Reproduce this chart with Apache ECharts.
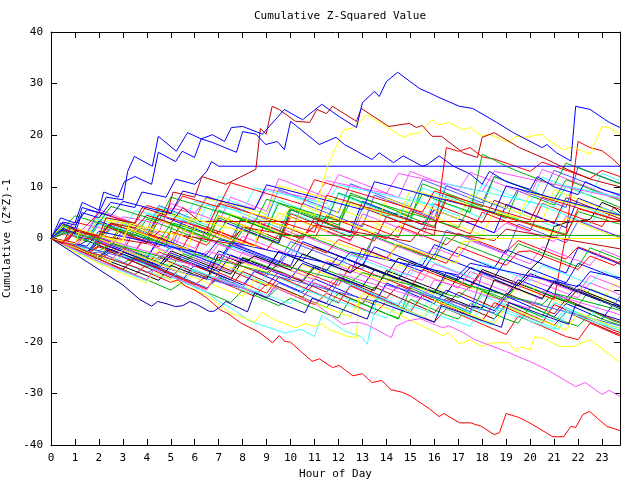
<!DOCTYPE html>
<html><head><meta charset="utf-8">
<script src="https://cdn.jsdelivr.net/npm/echarts@6/dist/echarts.min.js"></script>
<style>html,body{margin:0;padding:0;background:#fff}#c{width:640px;height:480px}</style>
</head><body><div id="c"></div>
<script>
// ---- text ----
const chartTitle = 'Cumulative Z-Squared Value';
const xAxisTitle = 'Hour of Day';
const yAxisTitle = 'Cumulative (Z*Z)-1';
const xTickLabels = [0,1,2,3,4,5,6,7,8,9,10,11,12,13,14,15,16,17,18,19,20,21,22,23];
const yTickLabels = [-40,-30,-20,-10,0,10,20,30,40];

// ---- colours ----
const R='#ff0000', DR='#c00000', G='#00b000', B='#0000ff', SB='#5050ff', M='#ff50ff', C='#40ffff', Y='#ffff00', K='#000000', DB='#0000b0';

// ---- half-hour sample times for the background walks ----
const hours=[0,0.5,1,1.5,2,2.5,3,3.5, 4,4.5,5,5.5,6,6.5,7,7.5, 8,8.5,9,9.5,10,10.5,11,11.5,
  12,12.5,13,13.5,14,14.5,15,15.5, 16,16.5,17,17.5,18,18.5,19,19.5, 20,20.5,21,21.5,22,22.5,23,23.5, 23.75];

// ---- background walks (values at `hours`) ----
const m01=[0,-0.9,2.1,1.2,0.3,-0.6,3.4,2.5, 1.6,5.8,4.9,4.0,3.1,2.2,1.3,4.5, 3.6,2.7,1.8,0.9,6.2,5.3,4.4,3.5, 2.6,7.1,6.2,5.3,4.4,5.0,4.1,3.2, 2.3,8.4,7.5,6.6,5.7,4.8,3.9,9.2, 8.3,7.4,6.5,10.1,9.2,8.3,7.4,6.5, 6.0];
const m02=[0,-1.0,-1.9,0.8,-0.1,-1.0,-1.8,2.6, 1.7,0.8,-0.1,-1.0,-1.9,1.1,0.2,-0.7, -1.6,3.9,3.0,2.1,1.2,0.3,2.2,1.3, 0.4,-0.5,4.8,3.9,3.0,2.1,1.2,0.3, 5.6,4.7,3.8,2.9,2.0,1.1,3.0,2.1, 1.2,0.3,-0.6,4.4,3.5,2.6,1.7,0.8, 0.4];
const m03=[0,1.6,0.7,-0.2,3.3,2.4,1.5,0.6, 4.8,3.9,3.0,2.1,1.2,6.5,5.6,4.7, 3.8,2.9,2.0,7.4,6.5,5.6,4.7,3.8, 8.9,8.0,7.1,6.2,5.3,4.4,3.5,9.8, 8.9,8.0,7.1,6.2,10.5,9.6,8.7,7.8, 6.9,11.9,11.0,10.1,9.2,8.3,12.6,11.7, 11.2];
const m04=[0,-0.9,-1.8,-2.7,0.1,-0.8,-1.7,-2.6, -3.5,-0.6,-1.5,-2.4,-3.3,-4.2,-5.1,-1.3, -2.2,-3.1,-4.0,-4.9,-2.1,-3.0,-3.9,-4.8, -5.7,-6.6,-1.9,-2.8,-3.7,-4.6,-5.5,-6.4, -3.0,-3.9,-4.8,-5.7,-6.6,-7.5,-4.1,-5.0, -5.9,-6.8,-7.7,-8.6,-4.8,-5.7,-6.6,-7.5, -8.0];
const m05=[0,2.4,1.5,0.6,-0.3,-1.2,2.9,2.0, 1.1,0.2,-0.7,3.6,2.7,1.8,0.9,0.0, 1.8,0.9,0.0,-0.9,4.2,3.3,2.4,1.5, 0.6,-0.3,2.9,2.0,1.1,0.2,5.4,4.5, 3.6,2.7,1.8,0.9,5.1,4.2,3.3,2.4, 1.5,6.8,5.9,5.0,4.1,3.2,2.3,6.1, 5.6];
const m06=[0,-1.0,-2.0,-3.0,-1.2,-2.2,-3.2,-4.2, -5.1,-2.1,-3.1,-4.1,-5.0,-5.9,-6.8,-3.6, -4.6,-5.6,-6.5,-7.4,-8.3,-5.0,-6.0,-7.0, -7.9,-8.8,-9.7,-6.1,-7.1,-8.1,-9.0,-9.9, -10.8,-7.5,-8.5,-9.5,-10.4,-11.3,-12.2,-9.0, -10.0,-11.0,-11.9,-12.8,-9.6,-10.6,-11.6,-12.5, -13.0];
const m07=[0,-0.9,-1.8,-2.7,-3.6,-2.1,-3.0,-3.9, -4.8,-5.7,-3.5,-4.4,-5.3,-6.2,-7.1,-8.0, -4.2,-5.1,-6.0,-2.5,-3.4,-4.3,-1.6,-2.5, -3.4,-4.3,-5.2,-6.1,-7.0,-3.8,-4.7,-5.6, -6.5,-7.4,-8.3,-9.2,-6.0,-6.9,-7.8,-8.7, -9.6,-10.5,-11.4,-12.3,-9.8,-10.7,-11.6,-12.5, -13.0];
const m08=[0,1.8,0.9,0.0,3.0,2.1,1.2,0.3, -0.6,3.6,2.7,1.8,0.9,0.0,4.4,3.5, 2.6,1.7,0.8,-0.1,4.8,3.9,3.0,2.1, 1.2,0.3,6.0,5.1,4.2,3.3,2.4,1.5, 6.7,5.8,4.9,4.0,3.1,7.4,6.5,5.6, 4.7,3.8,2.9,7.9,7.0,6.1,5.2,4.3, 3.8];
const m09=[0,2.8,1.9,1.0,5.2,4.3,3.4,2.5, 1.6,6.4,5.5,4.6,3.7,8.2,7.3,6.4, 5.5,4.6,3.7,9.5,8.6,7.7,6.8,5.9, 5.0,10.6,9.7,8.8,7.9,7.0,6.1,11.4, 10.5,9.6,8.7,7.8,6.9,12.0,11.1,10.2, 9.3,8.4,13.2,12.3,11.4,10.5,9.6,8.7, 8.2];
const m10=[0,-0.9,-1.8,-2.7,-3.6,-1.0,-1.9,-2.8, -3.7,-4.6,-5.5,-2.9,-3.8,-4.7,-5.6,-6.5, -3.6,-4.5,-5.4,-6.3,-7.2,-8.1,-5.2,-6.1, -7.0,-7.9,-8.8,-9.7,-6.8,-7.7,-8.6,-9.5, -10.4,-7.3,-8.2,-9.1,-10.0,-10.9,-11.8,-8.6, -9.5,-10.4,-11.3,-12.2,-13.1,-9.8,-10.7,-11.6, -12.1];
const m11=[0,-0.9,-1.8,0.9,0.0,-0.9,-1.8,-2.7, 0.6,-0.3,-1.2,-2.1,-3.0,-3.9,-1.1,-2.0, -2.9,-3.8,-4.7,-5.6,-2.2,-3.1,-4.0,-4.9, -5.8,-6.7,-3.6,-4.5,-5.4,-6.3,-7.2,-8.1, -4.9,-5.8,-6.7,-7.6,-8.5,-9.4,-10.3,-7.0, -7.9,-8.8,-9.7,-10.6,-11.5,-8.6,-9.5,-10.4, -10.9];
const m12=[0,-1.0,-2.0,-3.0,-4.0,-2.4,-3.4,-4.4, -5.4,-6.4,-4.4,-5.4,-6.4,-7.4,-8.4,-5.8, -6.8,-7.8,-8.8,-9.8,-10.8,-7.9,-8.9,-9.9, -10.9,-11.9,-12.9,-9.4,-10.4,-11.4,-12.4,-13.4, -10.6,-11.6,-12.6,-13.6,-14.6,-15.6,-12.2,-13.2, -14.2,-15.2,-16.2,-13.4,-14.4,-15.4,-16.4,-17.4, -17.8];
const m13=[0,-0.9,-1.8,1.2,0.3,-0.6,-1.5,-2.4, 0.8,-0.1,-1.0,-1.9,-2.8,2.2,1.3,0.4, -0.5,-1.4,3.6,2.7,1.8,0.9,0.0,4.4, 3.5,2.6,1.7,0.8,-0.1,2.4,1.5,0.6, -0.3,-1.2,1.0,0.1,-0.8,-1.7,-2.6,-0.4, -1.3,-2.2,-3.1,-4.0,-1.6,-2.5,-3.4,-4.3, -4.8];
const m14=[0,1.6,0.7,-0.2,3.4,2.5,1.6,0.7, -0.2,4.6,3.7,2.8,1.9,1.0,3.6,2.7, 1.8,0.9,0.0,-0.9,5.6,4.7,3.8,2.9, 2.0,1.1,7.2,6.3,5.4,4.5,3.6,2.7, 5.6,4.7,3.8,2.9,2.0,1.1,6.6,5.7, 4.8,3.9,3.0,2.1,7.8,6.9,6.0,5.1, 4.6];
const m15=[0,-0.9,-1.8,-2.7,0.3,-0.6,-1.5,-2.4, -3.3,-4.2,-1.6,-2.5,-3.4,-4.3,-5.2,-1.0, -1.9,-2.8,-3.7,-4.6,-0.6,-1.5,-2.4,-3.3, -4.2,-5.1,-6.0,1.2,0.3,-0.6,-1.5,-2.4, -3.3,1.6,0.7,-0.2,-1.1,-2.0,-2.9,2.8, 1.9,1.0,0.1,-0.8,3.4,2.5,1.6,0.7, 0.2];
const m16=[0,-0.9,-1.8,-2.7,-0.8,-1.7,-2.6,-3.5, -4.4,-5.3,-2.4,-3.3,-4.2,-5.1,-6.0,-6.9, -3.8,-4.7,-5.6,-6.5,-7.4,-8.3,-5.6,-6.5, -7.4,-8.3,-9.2,-10.1,-6.2,-7.1,-8.0,-8.9, -9.8,-10.7,-7.4,-8.3,-9.2,-10.1,-11.0,-8.8, -6.0,-3.8,2.3,3.1,3.4,3.7,7.0,6.0, 5.0];
const m17=[0,-1.0,-2.0,-3.0,-1.6,-2.6,-3.6,-4.6, -5.6,-3.6,-4.6,-5.6,-6.6,-7.6,-5.2,-6.2, -7.2,-8.2,-9.2,-6.4,-7.4,-8.4,-9.4,-10.4, -7.6,-8.6,-9.6,-10.6,-11.6,-9.0,-10.0,-11.0, -12.0,-13.0,-10.4,-11.4,-12.4,-13.4,-10.6,-11.6, -12.6,-13.6,-14.6,-11.8,-12.8,-13.8,-14.8,-15.8, -16.2];
const m18=[0,2.0,1.1,0.2,3.8,2.9,2.0,1.1, 0.2,5.4,4.5,3.6,2.7,1.8,6.6,5.7, 4.8,3.9,3.0,2.1,5.0,4.1,3.2,2.3, 1.4,0.5,6.2,5.3,4.4,3.5,2.6,1.7, 7.6,6.7,5.8,4.9,4.0,6.8,5.9,5.0, 4.1,3.2,2.3,7.4,6.5,5.6,4.7,3.8, 3.4];
const m19=[0,3.0,2.1,1.2,5.6,4.7,3.8,2.9, 2.0,1.1,6.8,5.9,5.0,4.1,3.2,8.0, 7.1,6.2,5.3,11.6,10.7,9.8,8.9,8.0, 12.4,11.5,10.6,9.7,8.8,7.9,13.0,12.1, 11.2,10.3,9.4,12.8,11.9,11.0,10.1,9.2, 8.3,13.4,12.5,11.6,10.7,9.8,8.9,8.0, 7.6];
const m20=[0,1.2,0.3,-0.6,2.8,1.9,1.0,0.1, -0.8,3.8,2.9,2.0,1.1,0.2,5.4,4.5, 3.6,2.7,1.8,6.8,5.9,5.0,4.1,3.2, 8.8,7.9,7.0,6.1,5.2,4.3,3.4,10.6, 9.7,8.8,7.9,7.0,6.1,12.0,11.1,10.2, 9.3,8.4,7.5,11.4,10.5,9.6,8.7,7.8, 7.3];
const m21=[0,-1.0,-2.0,-3.0,-4.0,-5.0,-6.0,-4.0, -5.0,-6.0,-7.0,-8.0,-5.0,-6.0,-7.0,-8.0, -9.0,-6.4,-7.4,-8.4,-9.4,-10.4,-7.8,-8.8, -9.8,-10.8,-11.8,-12.8,-8.6,-9.6,-10.6,-11.6, -12.6,-10.0,-11.0,-12.0,-13.0,-14.0,-11.2,-12.2, -13.2,-14.2,-15.2,-12.6,-13.6,-14.6,-15.6,-12.6, -13.1];
const m22=[0,-1.0,-2.0,-3.0,-4.0,-5.0,-6.0,-7.0, -5.0,-6.0,-7.0,-8.0,-9.0,-7.2,-8.2,-9.2, -10.2,-11.2,-8.8,-9.8,-10.8,-11.8,-12.8,-10.6, -11.6,-12.6,-13.6,-14.6,-12.2,-13.2,-14.2,-15.2, -16.2,-13.6,-14.6,-15.6,-16.6,-17.6,-18.6,-15.0, -16.0,-17.0,-18.0,-19.0,-19.6,-16.4,-17.4,-18.4, -18.9];
const m23=[0,-0.9,-1.8,-2.7,-3.6,-0.6,-1.5,-2.4, -3.3,-4.2,-5.1,-2.0,-2.9,-3.8,-4.7,-5.6, -6.5,-3.4,-4.3,-5.2,-6.1,-7.0,-7.9,-4.0, -4.9,-5.8,-6.7,-7.6,-8.5,-5.0,-5.9,-6.8, -7.7,-8.6,-9.5,-6.4,-7.3,-8.2,-9.1,-10.0, -10.9,-7.4,-8.3,-9.2,-10.1,-11.0,-11.9,-8.8, -9.3];
const m24=[0,-0.8,-1.6,-2.4,-3.2,-4.0,-4.8,-3.6, -4.6,-5.6,-6.6,-7.6,-8.6,-9.6,-7.6,-8.6, -9.6,-10.6,-11.6,-9.4,-10.4,-11.4,-12.4,-13.4, -10.6,-11.6,-12.6,-13.6,-14.6,-15.6,-9.6,-10.6, -11.6,-12.6,-13.6,-14.6,-10.2,-11.2,-12.2,-13.2, -14.2,-15.2,-11.0,-12.0,-13.0,-14.0,-15.0,-16.0, -16.4];
const m25=[0,-0.9,1.2,0.3,-0.6,-1.5,1.6,0.7, -0.2,-1.1,-2.0,3.4,2.5,1.6,0.7,-0.2, 4.2,3.3,2.4,1.5,0.6,6.8,5.9,5.0, 4.1,3.2,2.3,8.4,7.5,6.6,5.7,4.8, 3.9,10.2,9.3,8.4,7.5,6.6,5.7,9.6, 8.7,7.8,6.9,6.0,13.8,12.9,12.0,11.1, 10.7];
const m26=[0,-0.9,-1.8,-2.7,-0.4,-1.3,-2.2,-3.1, -4.0,0.2,-0.7,-1.6,-2.5,-3.4,-4.3,-0.8, -1.7,-2.6,-3.5,-4.4,-5.3,-0.6,-1.5,-2.4, -3.3,-4.2,-5.1,-1.6,-2.5,-3.4,-4.3,-5.2, -1.2,-2.1,-3.0,-3.9,-4.8,-5.7,-2.2,-3.1, -4.0,-4.9,-5.8,-6.7,-1.8,-2.7,-3.6,-4.5, -5.0];
const m27=[0,-0.9,-1.8,-2.7,-1.4,-2.3,-3.2,-4.1, -5.0,-2.6,-3.5,-4.4,-5.3,-6.2,-3.6,-4.5, -5.4,-6.3,-7.2,-4.6,-5.5,-6.4,-7.3,-8.2, -9.1,-5.2,-6.1,-7.0,-7.9,-8.8,-9.7,-6.0, -6.9,-7.8,-8.7,-9.6,-6.4,-7.3,-8.2,-9.1, -10.0,-10.9,-11.8,1.0,18.8,17.6,17.0,15.2, 14.0];
const m28=[0,-0.9,1.0,0.1,-0.8,-1.7,-2.6,1.8, 0.9,0.0,-0.9,-1.8,2.6,1.7,0.8,-0.1, -1.0,3.4,2.5,1.6,0.7,-0.2,4.0,3.1, 2.2,1.3,0.4,-0.5,4.2,3.3,2.4,1.5, 0.6,17.6,16.9,17.6,15.8,15.4,14.6,13.8, 13.0,14.8,14.0,13.2,12.4,11.6,13.2,12.4, 12.0];
const m29=[0,2.4,1.5,0.6,4.6,3.7,2.8,1.9, 1.0,6.2,5.3,4.4,3.5,2.6,8.2,7.3, 6.4,5.5,4.6,9.2,8.3,7.4,6.5,5.6, 8.6,7.7,6.8,5.9,5.0,4.1,8.0,7.1, 6.2,5.3,4.4,7.4,6.5,5.6,4.7,3.8, 7.2,6.3,5.4,4.5,3.6,2.7,6.0,5.1, 4.6];
const m30=[0,-0.9,-1.8,-0.4,-1.3,-2.2,-3.1,-4.0, -4.9,-5.8,-3.2,-4.1,-5.0,-5.9,-2.4,-3.3, -4.2,-5.1,-6.0,-2.6,-3.5,-4.4,-5.3,-6.2, -3.4,-4.3,-5.2,-6.1,-7.0,-7.9,-4.4,-5.3, -6.2,-7.1,-8.0,-5.6,-6.5,-7.4,-8.3,-9.2, -6.8,-7.7,-8.6,-9.5,-10.4,-11.3,-12.2,-13.1, -13.6];
const m31=[0,-1.0,-2.0,-3.0,-4.0,-2.6,-3.6,-4.6, -5.6,-6.6,-7.6,-5.2,-6.2,-7.2,-8.2,-9.2, -6.4,-7.4,-8.4,-9.4,-10.4,-11.4,-8.6,-9.6, -10.6,-11.6,-12.6,-9.4,-10.4,-11.4,-12.4,-13.4, -14.4,-11.6,-12.6,-13.6,-14.6,-15.6,-12.8,-13.8, -14.8,-15.8,-16.8,-14.2,-15.2,-16.2,-17.2,-18.2, -18.6];
const m32=[0,-0.8,1.4,0.5,-0.4,-1.3,0.8,-0.1, -1.0,-1.9,-2.8,1.6,0.7,-0.2,-1.1,-2.0, 0.4,-0.5,-1.4,-2.3,-3.2,0.6,-0.3,-1.2, -2.1,-3.0,-3.9,0.2,-0.7,-1.6,-2.5,-3.4, -1.8,-2.7,-3.6,-0.4,-1.3,-2.2,-3.1,-4.0, -4.9,-1.6,-2.5,-3.4,-4.3,-5.2,-2.2,-3.1, -3.6];
const m33=[0,-1.0,-2.0,-3.0,-4.0,-5.0,-6.0,-7.0, -8.0,-9.0,-10.0,-8.4,-9.4,-10.4,-11.4,-12.4, -10.0,-11.0,-12.0,-13.0,-11.6,-12.6,-13.6,-14.6, -15.4,-11.6,-12.6,-13.6,-14.6,-15.4,-11.8,-12.8, -13.8,-14.8,-15.6,-12.6,-13.6,-14.6,-15.6,-16.4, -13.2,-14.2,-15.2,-16.2,-17.0,-14.6,-15.6,-16.4, -16.8];
const m34=[0,-0.7,-1.4,-2.1,0.6,-0.3,-1.2,-2.1, -3.0,-3.9,-1.2,-2.1,-3.0,-3.9,-4.8,-1.6, -2.5,-3.4,-4.3,-5.2,-2.2,-3.1,-4.0,-4.9, -5.8,-3.2,-4.1,-5.0,-5.9,-6.8,-7.0,-3.8, -4.7,-5.6,-6.5,-7.4,-4.6,-5.5,-6.4,-7.3, -8.2,-5.2,-6.1,-7.0,-7.9,-8.8,-6.2,-7.1, -7.6];
const m35=[0,2.2,1.3,0.4,4.2,3.3,2.4,1.5, 0.6,3.6,2.7,1.8,0.9,0.0,4.4,3.5, 2.6,1.7,0.8,5.0,4.1,3.2,2.3,1.4, 5.8,4.9,4.0,3.1,2.2,1.3,7.4,6.5, 5.6,4.7,3.8,8.6,7.7,6.8,5.9,5.0, 4.1,3.2,9.4,8.5,7.6,6.7,5.8,4.9, 4.4];
const m36=[0,-0.9,-1.8,-2.7,-3.6,-1.6,-2.5,-3.4, -4.3,-5.2,-2.8,-3.7,-4.6,-5.5,-6.4,-3.2, -4.1,-5.0,-5.9,-6.8,-7.7,-4.8,-5.7,-6.6, -7.5,-8.4,-9.3,-6.0,-6.9,-7.8,-8.7,-9.6, -10.5,-6.6,-7.5,-8.4,-9.3,-10.2,-11.1,-8.0, -8.9,-9.8,-10.7,-11.6,-9.0,-9.9,-10.8,-11.7, -12.2];
const m37=[0,2.8,1.9,1.0,0.1,2.0,1.1,0.2, -0.7,-1.6,1.4,0.5,-0.4,-1.3,1.4,0.5, -0.4,-1.3,-2.2,0.8,-0.1,-1.0,-1.9,-2.8, -0.2,-1.1,-2.0,-2.9,-3.8,-1.2,-2.1,-3.0, -3.9,-4.8,-1.6,-2.5,-3.4,-4.3,-5.2,-2.6, -2.4,-3.3,-4.2,-5.1,-6.0,-3.4,-4.3,-5.2, -4.4];
const m38=[0,-1.0,-2.0,-3.0,-2.6,-3.6,-4.6,-5.6, -6.6,-5.6,-6.6,-7.6,-8.6,-9.6,-7.4,-8.4, -9.4,-10.4,-11.4,-8.6,-9.6,-10.6,-11.6,-12.6, -8.0,-9.0,-10.0,-11.0,-12.0,-13.0,-9.2,-10.2, -11.2,-12.2,-13.2,-14.2,-6.8,-7.8,-8.8,-9.8, -10.8,-11.8,-8.0,-9.0,-10.0,-11.0,-12.0,-13.0, -11.2];
const m39=[0,1.4,0.5,-0.4,-1.3,2.2,1.3,0.4, 3.8,2.9,2.0,1.1,0.2,-0.7,4.0,3.1, 2.2,1.3,0.4,-0.5,5.6,4.7,3.8,2.9, 2.0,8.8,7.9,7.0,6.1,5.2,4.3,8.6, 7.7,6.8,6.0,5.1,16.3,15.2,14.0,13.0, 12.1,11.2,10.3,14.6,13.7,12.8,11.9,11.0, 10.6];
const m40=[0,-0.8,-1.6,-2.4,-3.2,-4.0,-2.2,-3.1, -4.0,-4.9,-5.8,-6.7,-3.8,-4.7,-5.6,-6.5, -2.6,-3.5,-4.4,-5.3,-6.2,-7.1,-8.0,-4.4, -5.3,-6.2,-7.1,-8.0,-8.9,-9.8,-6.0,-6.9, -7.8,-8.7,-9.6,-6.4,-7.3,-8.2,-9.1,-10.0, -7.0,-7.9,-8.8,-9.7,-10.6,-7.2,-8.1,-9.0, -9.5];
const m41=[0,-0.9,-1.8,0.8,-0.1,-1.0,3.2,2.3, 1.4,0.5,-0.4,2.6,1.7,0.8,-0.1,4.8, 3.9,3.0,2.1,1.2,0.3,6.4,5.5,4.6, 3.7,2.8,1.9,1.0,7.8,6.9,6.0,5.1, 4.2,3.3,2.4,1.5,0.6,5.4,4.5,3.6, 2.7,1.8,0.9,4.0,3.1,2.2,1.3,0.4, 0.0];
const m42=[0,-1.0,-2.0,-3.0,-4.0,-5.0,-3.2,-4.2, -5.2,-6.2,-7.2,-8.2,-6.0,-7.0,-8.0,-9.0, -10.0,-11.0,-6.6,-7.6,-8.6,-9.6,-10.6,-11.6, -12.6,-8.8,-9.8,-10.8,-11.8,-12.8,-13.8,-10.4, -11.4,-12.4,-13.4,-14.4,-11.0,-12.0,-13.0,-14.0, -15.0,-16.0,-12.4,-13.4,-14.4,-15.4,-12.0,-13.0, -13.4];
const m43=[0,-0.9,-1.8,-2.7,-3.6,-4.5,-5.4,-6.3, -7.2,-8.1,-5.2,-6.1,-7.0,-7.9,-3.0,-3.9, -4.8,-3.4,-4.3,-5.2,-6.1,-3.0,-3.9,-4.8, -5.7,-6.6,-5.0,-5.9,-6.8,-7.7,-8.6,-9.5, -10.4,-11.3,-12.2,-13.1,-13.4,-8.0,-8.9,-9.8, -10.7,-11.6,-8.4,-9.3,-10.2,-11.1,-12.0,-12.9, -13.3];
const m44=[0,2.6,1.7,0.8,-0.1,3.0,2.1,1.2, 0.3,-0.6,2.8,1.9,1.0,0.1,-0.8,-1.7, 1.6,0.7,-0.2,-1.1,-2.0,0.9,0.0,-0.9, -1.8,-2.7,-3.6,0.4,-0.5,-1.4,-2.3,-3.2, -4.1,0.2,-0.7,-1.6,-2.5,-3.4,-4.3,-1.0, -1.9,-2.8,-3.7,-4.6,-5.5,-1.8,-2.7,-3.6, -4.1];
const m45=[0,-1.0,-2.0,-3.0,-4.0,-5.0,-6.0,-3.8, -4.8,-5.8,-6.8,-7.8,-8.8,-9.8,-6.6,-7.6, -8.6,-9.6,-10.6,-7.4,-8.4,-9.4,-10.4,-11.4, -12.4,-9.2,-10.2,-11.2,-12.2,-13.2,-14.2,-11.0, -12.0,-13.0,-14.0,-15.0,-16.0,-12.4,-13.4,-14.4, -15.4,-16.4,-12.8,-13.8,-14.8,-15.8,-16.8,-17.8, -18.2];
const n01=[0,0.8,0.4,2.6,2.1,1.6,4.2,3.8, 3.3,2.8,5.9,5.4,4.9,7.8,7.3,6.8, 6.3,5.8,9.6,9.1,8.6,8.1,7.6,11.2, 10.7,10.2,9.7,9.2,8.7,12.6,12.1,11.6, 11.1,10.6,10.1,9.6,9.1,13.0,12.5,12.0, 11.5,11.0,10.5,10.0,9.5,9.0,8.5,8.0, 7.8];
const n02=[0,1.2,0.7,0.2,2.8,2.3,1.8,5.4, 4.9,4.4,3.9,3.4,7.2,6.7,6.2,5.7, 5.2,9.8,9.3,8.8,8.3,7.8,7.3,6.8, 10.4,9.9,9.4,8.9,8.4,7.9,7.4,6.9, 6.4,10.6,10.1,9.6,9.1,8.6,8.1,7.6, 7.1,6.6,6.1,10.2,9.7,9.2,8.7,8.2, 8.0];
const n03=[0,-0.6,-1.2,-1.8,-2.4,-1.0,-1.6,-2.2, -2.8,-3.4,-4.0,-4.6,-3.0,-3.6,-4.2,-4.8, -5.4,-6.0,-6.6,-5.0,-5.6,-6.2,-6.8,-7.4, -8.0,-8.6,-6.6,-7.2,-7.8,-8.4,-9.0,-9.6, -10.2,-10.8,-11.4,-9.2,-9.8,-10.4,-11.0,-11.6, -12.2,-12.8,-10.6,-11.2,-11.8,-12.4,-13.0,-13.6, -13.9];
const n04=[0,-0.7,1.8,1.2,0.6,3.6,3.0,2.4, 1.8,5.2,4.6,4.0,3.4,7.8,7.2,6.6, 6.0,5.4,4.8,10.2,9.6,9.0,8.4,7.8, 7.2,6.6,6.0,5.4,4.8,4.2,9.4,8.8, 8.2,7.6,7.0,6.4,5.8,5.2,4.6,4.0, 8.8,8.2,7.6,7.0,6.4,5.8,5.2,4.6, 4.3];
const n05=[0,-0.5,-1.0,-1.5,1.4,0.9,0.4,-0.1, -0.6,-1.1,-1.6,-2.1,-2.6,-3.1,-0.2,-0.7, -1.2,-1.7,-2.2,-2.7,-3.2,-3.7,-4.2,-4.7, -5.2,-2.6,-3.1,-3.6,-4.1,-4.6,-5.1,-5.6, -6.1,-6.6,-7.1,-4.8,-5.3,-5.8,-6.3,-6.8, -7.3,-7.8,-8.3,-8.8,-9.3,-6.4,-6.9,-7.4, -7.6];
const n06=[0,1.0,3.2,2.6,5.0,4.3,3.6,2.9, 6.4,5.7,5.0,8.2,7.5,6.8,6.1,10.8, 10.1,9.4,8.7,8.0,7.3,6.6,11.4,10.7, 10.0,9.3,8.6,7.9,7.2,6.5,5.8,5.1, 9.2,8.5,7.8,7.1,6.4,5.7,5.0,4.3, 3.6,8.0,7.3,6.6,5.9,5.2,4.5,3.8, 3.5];
const n07=[0,-0.6,-1.2,-1.8,-2.4,-3.0,-3.6,-4.2, -4.8,-5.4,-6.0,-6.6,-7.2,-7.8,-8.4,-9.0, -9.6,-6.2,-6.8,-7.4,-8.0,-8.6,-9.2,-9.8, -10.4,-11.0,-11.6,-12.2,-9.0,-9.6,-10.2,-10.8, -11.4,-12.0,-12.6,-13.2,-13.8,-14.4,-11.2,-11.8, -12.4,-13.0,-13.6,-14.2,-14.8,-15.4,-16.0,-16.6, -16.9];
const n08=[0,-0.4,-0.8,1.0,0.6,0.2,-0.2,-0.6, -1.0,1.4,1.0,0.6,0.2,-0.2,-0.6,-1.0, 2.2,1.8,1.4,1.0,0.6,0.2,2.6,2.2, 1.8,1.4,1.0,0.6,0.2,-0.2,-0.6,2.0, 1.6,1.2,0.8,0.4,0.0,-0.4,1.8,1.4, 1.0,0.6,0.2,-0.2,-0.6,-1.0,-1.4,-1.8, -2.0];
const n09=[0,-0.8,-1.6,-2.4,-3.2,-4.0,-4.8,-5.6, -6.4,-7.2,-8.0,-5.4,-6.2,-7.0,-7.8,-8.6, -9.4,-10.2,-11.0,-11.8,-12.6,-9.8,-10.6,-11.4, -12.2,-13.0,-13.8,-14.6,-15.4,-12.2,-13.0,-13.8, -14.6,-15.4,-16.2,-17.0,-12.8,-13.6,-14.4,-15.2, -16.0,-16.8,-17.6,-13.8,-14.6,-15.4,-16.2,-17.0, -17.4];
const n10=[0,-0.7,-1.4,1.0,0.3,-0.4,-1.1,-1.8, -2.5,-3.2,-3.9,-4.6,-5.3,-2.4,-3.1,-3.8, -4.5,-5.2,-5.9,-6.6,-7.3,-8.0,-8.7,-9.4, -6.8,-7.5,-8.2,-8.9,-9.6,-10.3,-11.0,-11.7, -8.0,-8.7,-9.4,-10.1,-10.8,-11.5,-12.2,-12.9, -13.6,-10.2,-10.9,-11.6,-12.3,-13.0,-13.7,-14.4, -14.8];
const n11=[0,2.0,4.4,3.7,3.0,6.2,5.5,4.8, 4.1,3.4,8.0,7.3,6.6,5.9,5.2,4.5, 3.8,3.1,7.6,6.9,6.2,5.5,4.8,4.1, 3.4,8.4,7.7,7.0,6.3,5.6,4.9,4.2, 3.5,2.8,2.1,6.4,5.7,5.0,4.3,3.6, 2.9,2.2,1.5,0.8,5.2,4.5,3.8,3.1, 2.8];
const n12=[0,3.2,2.6,5.6,5.0,4.4,7.2,6.6, 6.0,5.4,4.8,9.2,8.6,8.0,7.4,6.8, 6.2,5.6,10.4,9.8,9.2,8.6,8.0,7.4, 6.8,6.2,5.6,11.0,10.4,9.8,9.2,8.6, 8.0,7.4,6.8,6.2,5.6,5.0,10.2,9.6, 9.0,8.4,7.8,7.2,6.6,6.0,5.4,4.8, 4.5];
const n13=[0,-0.9,-1.8,-2.7,-3.6,-4.5,-2.2,-3.1, -4.0,-4.9,-5.8,-6.7,-7.6,-8.5,-9.4,-10.3, -11.2,-8.0,-8.9,-9.8,-10.7,-11.6,-12.5,-13.4, -14.3,-15.2,-10.6,-11.5,-12.4,-13.3,-14.2,-15.1, -12.0,-12.9,-13.8,-14.7,-15.6,-16.5,-13.2,-14.1, -15.0,-15.9,-16.8,-17.7,-14.4,-15.3,-16.2,-17.1, -17.6];
const n14=[0,-0.8,1.6,0.9,0.2,2.8,2.1,1.4, 0.7,4.6,3.9,3.2,2.5,1.8,6.8,6.1, 5.4,4.7,4.0,3.3,2.6,1.9,1.2,8.4, 7.7,7.0,6.3,5.6,4.9,4.2,3.5,2.8, 2.1,7.6,6.9,6.2,5.5,4.8,4.1,3.4, 2.7,2.0,1.3,0.6,5.8,5.1,4.4,3.7, 3.4];

const walkValues=[m01,m02,m03,m04,m05,m06,m07,m08,m09,m10,m11,m12,m13,m14,m15,m16,m17,m18,m19,m20,m21,m22,m23,
  m24,m25,m26,m27,m28,m29,m30,m31,m32,m33,m34,m35,m36,m37,m38,m39,m40,m41,m42,m43,m44,m45,
  n01,n02,n03,n04,n05,n06,n07,n08,n09,n10,n11,n12,n13,n14];
const walkColors=[G,M,C,B,R,Y,K,DR,SB,G,M,C,R,B,SB,K,DR,C,M,G,B,R,Y,
  G,SB,B,R,R,C,DB,DR,M,G,C,Y,B,R,SB,G,M,Y,C,K,G,R,
  M,C,G,Y,B,R,SB,DR,C,M,G,B,Y,R];

// ---- traced outer walks: [hour, value] ----
const blueTop=[[0,0],[0.4,3],[1,2],[1.3,6],[2,5],[2.3,8],[3,7.5],[3.2,13],[3.48,15.9],[4.23,14],[4.48,19.8],[5.23,16.9],[5.7,20.5],[6.27,19.3],[6.74,20.1],[7.24,18.8],[7.53,21.5],[8,21.7],[8.83,20.2],[9.74,25],[10.5,23],[11.3,26],[12,23.7],[12.75,21.5],[13,26.3],[13.5,28.5],[13.7,27.5],[14,30.4],[14.47,32.2],[15.4,29],[15.8,28.2],[16.2,27.3],[17.05,25.6],[17.6,25.2],[18.6,22.5],[19.3,20.5],[20.5,17.6],[20.7,18.2],[21.1,16.6],[21.7,15],[21.9,25.6],[22.5,25],[23.3,22.5],[23.75,21.5]];
const blue2=[[0,0],[0.4,4],[1,3],[1.3,7],[2,5.5],[2.2,9],[2.8,8],[3.06,11],[3.5,12],[4.2,10.5],[4.48,16.7],[5.2,14.9],[5.48,16.9],[5.99,15.7],[6.27,19.3],[6.74,18.6],[7.74,16.7],[8,20.7],[8.56,20.2],[8.96,18.2],[9.45,18.8],[9.74,17.2],[10,22.7],[11.2,18.2],[11.9,19.6],[12.25,18.2],[13.4,15.3],[13.7,16.6],[14.3,14.7],[14.7,16],[15.5,14],[15.7,14.3],[16.2,16],[16.8,14],[17.5,12.5],[18,10.5],[18.3,13],[19,11],[20,9.5],[20.3,12],[21,10],[22,8.5],[22.3,11],[23,9.5],[23.75,8.5]];
const darkRedTop=[[0,0],[0.5,-1],[0.8,2],[2,0.5],[2.3,4],[3.5,3],[3.8,6],[4.8,4.5],[5.1,9],[6,8],[6.3,12],[7.3,10.5],[8.55,13.4],[8.74,21.3],[8.98,20.2],[9.23,25.6],[9.52,25],[10.2,22.7],[10.8,22.5],[11.1,25],[11.5,24.2],[11.75,25.6],[12.75,22.7],[12.95,25.2],[14.1,21.7],[14.96,22.3],[15.25,21.5],[15.5,21.9],[15.9,19.8],[16.3,19.8],[17.2,16.6],[17.8,15.7],[18,19.6],[18.5,20.5],[19.55,17.6],[20.7,15.3],[21.5,13.5],[22.5,11.5],[23.75,10]];
const yellowTop=[[0,0],[1,-1],[1.2,1.5],[2.5,0],[3,-0.5],[3.3,3],[4.5,1.5],[5.5,0.5],[5.8,4],[7,2.5],[8,1.5],[8.3,5],[9.5,3.5],[10,6],[11,4.5],[11.5,13.4],[12.2,21],[12.6,21.4],[13.2,24],[14,21.7],[14.7,19.6],[15,20.2],[15.4,20.5],[15.9,23],[16.2,22],[16.6,22.5],[17.2,21.1],[17.5,21.5],[18,19.8],[18.3,20.2],[19.1,18.6],[19.4,19.8],[19.8,19.6],[20.5,20.2],[20.7,19.2],[21.4,17.2],[21.8,17.8],[22.5,16.3],[23,21.7],[23.3,21.5],[23.75,20.2]];
const blueFlat=[[0,0],[0.5,2],[1,1],[1.3,5],[2,4],[2.5,7],[3.5,6],[3.8,9],[4.8,8],[5.2,11.5],[6,10.5],[6.5,13],[6.7,14.9],[7,14],[23.75,14]];
const darkRedFlat=[[0,0],[0.7,-0.5],[1,1.5],[2,0.5],[2.5,3],[3.5,2],[4,4.5],[5,3],[5.5,6],[6.2,3.3],[23.75,3.3]];
const greenFlat=[[0,0],[0.8,1.4],[2,-0.4],[2.3,2.6],[3.6,0.6],[4.8,-1.2],[5.1,3],[6.4,1],[7.6,-0.8],[7.9,3.6],[9.2,1.6],[9.6,0.6],[23.75,0.6]];
const yellowFlat=[[0,0],[0.5,2.8],[1.7,1],[2.9,-0.8],[3.2,1.8],[4.5,-0.2],[5.7,-2],[6,2.2],[7.3,0.2],[8.5,-1.6],[8.8,3.8],[10.1,1.8],[11.3,0],[11.6,-0.4],[12.9,-2.4],[14.1,-4.2],[14.4,-1],[15.7,-3],[16.9,-4.8],[17.2,-0.6],[18.5,0],[23.75,0]];
const redLow=[[0,0],[0.5,-0.8],[1,-1.5],[1.5,-2.5],[2,-3.2],[2.5,-4],[3,-4.8],[3.5,-5.5],[4,-6.5],[4.5,-7.5],[5,-8.5],[5.3,-8],[5.6,-9.2],[6,-10],[6.5,-11.5],[7.06,-13.8],[7.44,-14.7],[7.9,-16.3],[8.7,-18.2],[9.25,-20.2],[9.53,-18.8],[9.74,-19.9],[10,-20.1],[10.9,-23.8],[11.2,-23.3],[11.75,-25],[12.03,-24.6],[12.6,-26.6],[13,-26.2],[13.4,-27.9],[13.8,-27.5],[14.2,-29.3],[14.67,-29.8],[15.04,-30.6],[15.8,-33],[16.2,-34.5],[16.4,-33.9],[17.05,-35.7],[17.5,-35.7],[17.97,-36.4],[18.5,-38],[18.72,-37.6],[19,-33.9],[19.55,-34.7],[19.97,-35.7],[20.95,-38.4],[21.4,-38.4],[21.7,-36.4],[21.9,-36.6],[22.2,-34.1],[22.48,-33.5],[23.2,-36.4],[23.75,-37.2]];
const blueLow=[[0,0],[1,-3],[2,-6],[3,-9],[3.7,-11.8],[4.2,-13.1],[4.45,-12.2],[4.8,-12.6],[5.2,-13.2],[5.5,-13],[5.8,-12.2],[6.1,-12.8],[6.6,-14.1],[6.8,-14.1],[7.1,-13.1],[7.3,-12.2],[8.2,-14.2],[8.5,-10.5],[9.6,-12.6],[10.6,-14.4],[10.9,-11.6],[12.2,-13.8],[13.2,-15.6],[13.5,-12],[14.8,-14.2],[16,-16.2],[16.3,-13],[17.6,-15.2],[18.8,-17.2],[19.1,-12.4],[20.4,-14.6],[21.6,-16.6],[21.9,-12.8],[23.2,-15],[23.75,-15.8]];
const cyanLow=[[0,0],[1,-2.4],[2,-4.6],[3,-6.4],[4,-8.2],[4.3,-6],[5.5,-8.4],[6.5,-10.4],[7,-12.2],[7.5,-13.4],[8.3,-16],[9.75,-18.3],[10.45,-17.6],[11,-19],[11.3,-14.9],[11.6,-15.8],[12.3,-18],[12.95,-19],[13.2,-20.5],[13.6,-11.5],[14.6,-13.6],[15.6,-15.4],[15.9,-12.6],[17.2,-14.8],[18.4,-16.8],[18.7,-13.4],[20,-15.6],[21.2,-17.6],[21.5,-14.2],[22.8,-16.4],[23.75,-17.8]];
const yellowLow=[[0,0],[1,-2.6],[2,-4.8],[3,-6.8],[4,-8.6],[4.3,-6.6],[5.5,-9],[6.5,-11],[7.44,-14.3],[8.5,-16.2],[8.8,-14.3],[9.3,-15.7],[10.2,-17.3],[10.6,-16.5],[11,-17],[11.3,-16.5],[11.6,-17.6],[12.4,-19],[12.75,-19.2],[12.85,-11.5],[14,-13.5],[15.38,-16.7],[16.35,-18.8],[16.6,-18.2],[17.05,-20.5],[17.5,-19.6],[17.97,-20.9],[18.4,-20.2],[19.1,-20.2],[19.4,-21.9],[19.6,-21],[20,-21.5],[20.2,-19],[20.6,-19.4],[21.2,-20.9],[21.8,-20.9],[22.5,-19.6],[23.75,-24]];
const magentaLow=[[0,0],[1,-2.2],[2,-4.4],[3,-6.2],[4,-8],[4.3,-6],[5.5,-8.2],[6.5,-10],[6.8,-7.6],[8,-9.6],[9,-11.4],[9.3,-9.4],[10.3,-11.4],[10.9,-12.2],[12.2,-16.7],[12.5,-16.3],[12.9,-16.3],[13.2,-16.7],[14.2,-19.2],[14.4,-17],[14.85,-16],[15.4,-15.5],[16.35,-17.3],[16.6,-16.9],[17.2,-18.2],[17.7,-19.6],[19,-21.9],[19.97,-23.8],[20.7,-25.4],[21.9,-28.7],[22.3,-27.9],[23,-30.2],[23.3,-29.4],[23.75,-30.6]];

const tracedData=[yellowFlat,greenFlat,darkRedFlat,blueFlat,cyanLow,yellowLow,magentaLow,blueLow,redLow,yellowTop,darkRedTop,blue2,blueTop];
const tracedColors=[Y,G,DR,B,C,Y,M,DB,R,Y,DR,B,B];

const FONT='"DejaVu Sans Mono", "Liberation Mono", monospace';
const txt={color:'#000',fontFamily:FONT,fontSize:11};

const allData=walkValues.map(vals=>vals.map((v,i)=>[hours[i],v])).concat(tracedData);
const allColors=walkColors.concat(tracedColors);

const chart=echarts.init(document.getElementById('c'),null,{renderer:'canvas'});
const axisCommon={type:'value',splitLine:{show:false},axisLine:{show:true,onZero:false,lineStyle:{color:'#000',width:1}},axisTick:{show:true,inside:true,length:6,lineStyle:{color:'#000',width:1}}};
chart.setOption({
  animation:false,
  backgroundColor:'#fff',
  title:{text:chartTitle,left:335,top:6,textAlign:'center',textStyle:{...txt,fontWeight:'normal'}},
  grid:{left:51,right:20,top:32,bottom:35,containLabel:false,outerBoundsMode:'none'},
  xAxis:[
    {...axisCommon,position:'bottom',min:0,max:23.75,interval:1,
      axisLabel:{...txt,margin:8,showMaxLabel:false,formatter:v=>xTickLabels.indexOf(v)>=0?String(v):''},
      name:xAxisTitle,nameLocation:'middle',nameGap:21,nameTextStyle:txt},
    {...axisCommon,position:'top',min:0,max:23.75,interval:1,axisLabel:{show:false}}
  ],
  yAxis:[
    {...axisCommon,position:'left',min:-40,max:40,interval:10,
      axisLabel:{...txt,margin:8,formatter:v=>yTickLabels.indexOf(v)>=0?String(v):''},
      name:yAxisTitle,nameLocation:'middle',nameGap:34,nameRotate:90,nameTextStyle:txt},
    {...axisCommon,position:'right',min:-40,max:40,interval:10,axisLabel:{show:false}}
  ],
  series:allData.map((d,i)=>({type:'line',data:d,xAxisIndex:0,yAxisIndex:0,showSymbol:false,symbol:'none',silent:true,
    lineStyle:{color:allColors[i],width:1},itemStyle:{color:allColors[i]}}))
});
</script></body></html>
